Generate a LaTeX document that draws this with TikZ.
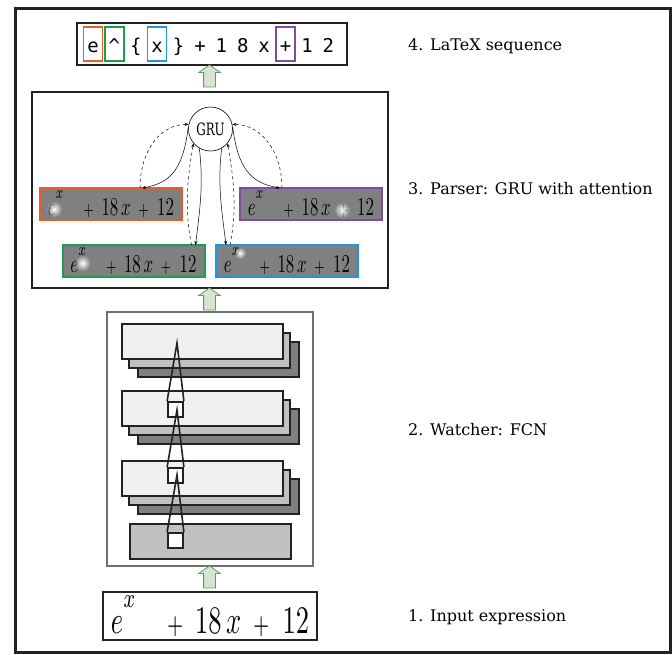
\documentclass[tikz,border=0pt]{standalone}
\usepackage{fontspec}
\setmainfont{DejaVu Serif}
\newfontfamily\seqfont{DejaVu Sans Mono}
\usetikzlibrary{positioning,shapes.arrows,arrows.meta,fadings}

\definecolor{hlred}{HTML}{EE5A2A}
\definecolor{hlgreen}{HTML}{16A050}
\definecolor{hlblue}{HTML}{1E98DA}
\definecolor{hlpurple}{HTML}{7D4E9F}
\definecolor{imggray}{HTML}{808080}
\definecolor{layerlight}{HTML}{EEF0F2}
\definecolor{layermid}{HTML}{C0C1C1}
\definecolor{layerdark}{HTML}{808080}
\definecolor{upfill}{HTML}{D6E4D0}
\definecolor{upline}{HTML}{5E9C70}
\definecolor{framegray}{HTML}{222222}
\definecolor{watchgray}{HTML}{707070}

\tikzfading[name=spotfade, inner color=transparent!0, outer color=transparent!100]

\newcommand{\handexpr}{$e$\raisebox{1.3ex}{$\scriptstyle x$}\hspace{1.2em}$\scriptstyle+$\hspace{0.45em}$18\,x$\hspace{0.45em}$\scriptstyle+$\hspace{0.5em}$12$}

\tikzset{
  thickbox/.style={draw=framegray, line width=2.2pt, inner sep=0pt},
  imgbox/.style={draw=#1, line width=2pt, fill=imggray, minimum width=142,
    minimum height=32, inner sep=0pt, outer sep=0pt},
  hlbox/.style={draw=#1, line width=1.5pt, minimum width=19, minimum height=34, inner sep=0pt},
  layer/.style={draw=framegray, line width=1.8pt, fill=#1, minimum width=161,
    minimum height=35, anchor=north west, inner sep=0pt},
  cell/.style={draw=framegray, line width=1.8pt, fill=white, minimum size=15, inner sep=0pt},
  cone/.style={framegray, line width=1.6pt},
  attn/.style={-{Stealth[length=4pt,width=3pt]}, line width=0.5pt},
  attnback/.style={attn, dashed},
  uparrow/.style={single arrow, draw=upline, fill=upfill, line width=0.8pt,
    minimum height=22, inner sep=5.5pt, single arrow head extend=5pt,
    single arrow tip angle=110, shape border rotate=90},
  steplabel/.style={anchor=west, font=\fontsize{16}{16}\selectfont, inner sep=0pt}
}

\begin{document}
\begin{tikzpicture}[x=1pt,y=-1pt]
  \useasboundingbox (0,0) rectangle (672,654);
  \draw[framegray, line width=3pt] (15,8) rectangle (670.5,652.5);

  % LaTeX sequence
  \node[thickbox, minimum width=270, minimum height=42] (seq) at (212,44) {};
  \foreach \ch [count=\i from 0] in {e,\textasciicircum,\{,x,\},+,1,8,x,+,1,2}
    \node[font=\seqfont\fontsize{19}{19}\selectfont, inner sep=0pt, anchor=base]
      (s\i) at (93+21.4*\i,52) {\ch};
  \foreach \i/\c in {0/hlred,1/hlgreen,3/hlblue,9/hlpurple}
    \node[hlbox=\c] (hl\i) at (s\i.base |- seq.center) {};
  \node[uparrow] (up4) at (209.5,78) {};

  % Parser with attention
  \node[thickbox, minimum width=356, minimum height=196] (parser) at (210,190) {};
  \node[circle, draw, line width=0.6pt, minimum size=44, inner sep=0pt] (gru) at (210.5,129)
    {\scalebox{0.7}[1]{\fontsize{17}{17}\selectfont GRU}};
  \node[imgbox=hlred] (att1) at (111,204) {\resizebox{126pt}{25pt}{\handexpr}};
  \node[imgbox=hlpurple, right=58pt of att1] (att4) {\resizebox{126pt}{25pt}{\handexpr}};
  \node[imgbox=hlgreen] (att2) at (133.5,261) {\resizebox{126pt}{25pt}{\handexpr}};
  \node[imgbox=hlblue, right=11.5pt of att2] (att3) {\resizebox{126pt}{25pt}{\handexpr}};
  % attention spots
  \fill[white, path fading=spotfade] ([shift={(14,5)}]att1.west) circle (8);
  \fill[white, path fading=spotfade] ([shift={(20,2)}]att2.west) circle (8);
  \fill[white, path fading=spotfade] ([shift={(24,-8)}]att3.west) circle (6);
  \fill[white, path fading=spotfade] ([shift={(102,6)}]att4.west) circle (8);

  % Connect nodes
  \draw[attn] (gru.175) .. controls +(-5,40) and +(30,-5) .. ([xshift=31]att1.north);
  \draw[attnback] ([xshift=29]att1.north) .. controls +(0,-35) and +(-30,0) .. (gru.168);
  \draw[attn] (gru.5) .. controls +(5,40) and +(-30,-5) .. ([xshift=-31]att4.north);
  \draw[attnback] ([xshift=-29]att4.north) .. controls +(0,-35) and +(30,0) .. (gru.12);
  \draw[attnback] ([xshift=58]att2.north) .. controls +(-8,-40) and +(-5,30) .. (gru.220);
  \draw[attn] (gru.240) .. controls +(4,35) and +(5,-40) .. ([xshift=62]att2.north);
  \draw[attnback] ([xshift=-57]att3.north) .. controls +(8,-40) and +(5,30) .. (gru.320);
  \draw[attn] (gru.300) .. controls +(-4,35) and +(-5,-40) .. ([xshift=-61]att3.north);
  \node[uparrow] (up3) at (209.5,301) {};

  % Watcher FCN
  \node[draw=watchgray, line width=1.5pt, minimum width=206, minimum height=254] (watcher) at (210,439) {};
  \foreach \y [count=\k] in {323,390,460} {
    \node[layer=layerdark] (back\k) at (137,\y+18) {};
    \node[layer=layermid] (mid\k) at (128,\y+9) {};
    \node[layer=layerlight] (front\k) at (121,\y) {};
  }
  \node[layer=layermid] (base) at (129,523) {};
  \node[cell] (sq1) at (175.5,409.5) {};
  \node[cell] (sq2) at (175.5,475.5) {};
  \node[cell] (sq3) at (175.5,540.5) {};
  \coordinate (tip1) at (177,343);
  \coordinate (tip2) at (177,410);
  \coordinate (tip3) at (177,475);
  \foreach \k in {1,2,3}
    \draw[cone] (sq\k.north west) -- (tip\k) -- (sq\k.north east);
  \node[uparrow] (up2) at (209.5,579) {};

  % Input expression
  \node[thickbox, minimum width=214, minimum height=48] (input) at (210,616)
    {\resizebox{198pt}{38pt}{\handexpr}};

  % Step labels
  \node[steplabel] (lab4) at (408,46) {4. LaTeX sequence};
  \node[steplabel] (lab3) at (408,189) {3. Parser: GRU with attention};
  \node[steplabel] (lab2) at (408,430) {2. Watcher: FCN};
  \node[steplabel] (lab1) at (408,617) {1. Input expression};
\end{tikzpicture}
\end{document}
